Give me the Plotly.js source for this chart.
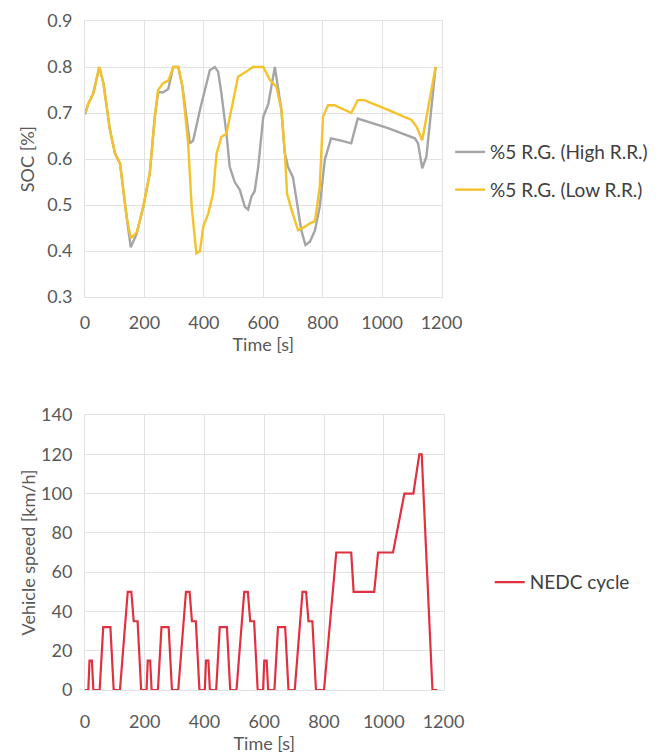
<!DOCTYPE html>
<html>
<head>
<meta charset="utf-8">
<script src="https://cdn.plot.ly/plotly-3.0.1.min.js"></script>
<style>
  html, body { margin: 0; padding: 0; background: #ffffff; }
  #chart { width: 660px; height: 756px; }
</style>
</head>
<body>
<div id="chart"></div>
<script>
// ---- SOC chart data ----
const timeHigh = [0, 11, 28, 48, 62, 84, 101, 118, 140, 154, 174, 196, 218, 235, 246, 263, 280, 297, 314, 328, 353, 364, 387, 403, 420, 437, 448, 459, 476, 487, 504, 521, 538, 549, 560, 571, 583, 600, 617, 639, 661, 672, 683, 700, 712, 728, 742, 757, 774, 790, 807, 828, 862, 896, 918, 1020, 1110, 1121, 1135, 1149, 1180];
const socHigh  = [0.697, 0.72, 0.743, 0.80, 0.765, 0.663, 0.612, 0.59, 0.475, 0.408, 0.438, 0.496, 0.569, 0.692, 0.745, 0.745, 0.752, 0.80, 0.80, 0.757, 0.634, 0.64, 0.707, 0.75, 0.793, 0.80, 0.79, 0.743, 0.656, 0.583, 0.55, 0.533, 0.496, 0.49, 0.518, 0.53, 0.583, 0.692, 0.72, 0.80, 0.707, 0.615, 0.583, 0.56, 0.511, 0.445, 0.413, 0.42, 0.445, 0.496, 0.598, 0.645, 0.64, 0.634, 0.688, 0.667, 0.645, 0.634, 0.58, 0.605, 0.80];

const timeLow = [0, 11, 28, 48, 62, 84, 101, 118, 140, 154, 174, 196, 218, 235, 246, 263, 280, 297, 314, 328, 347, 359, 375, 387, 398, 415, 431, 443, 459, 476, 499, 515, 543, 565, 600, 622, 644, 661, 672, 680, 695, 717, 740, 757, 774, 790, 801, 818, 840, 885, 896, 918, 940, 1020, 1099, 1116, 1135, 1180];
const socLow  = [0.70, 0.72, 0.743, 0.80, 0.765, 0.663, 0.612, 0.59, 0.475, 0.428, 0.44, 0.496, 0.569, 0.692, 0.75, 0.765, 0.77, 0.80, 0.80, 0.757, 0.634, 0.496, 0.395, 0.40, 0.453, 0.482, 0.525, 0.612, 0.648, 0.655, 0.728, 0.779, 0.79, 0.80, 0.80, 0.772, 0.757, 0.707, 0.62, 0.525, 0.49, 0.445, 0.453, 0.46, 0.465, 0.54, 0.692, 0.717, 0.717, 0.703, 0.70, 0.728, 0.728, 0.707, 0.685, 0.67, 0.641, 0.80];

// ---- NEDC speed data ----
const timeNedc  = [0, 11, 15, 23, 28, 49, 61, 85, 96, 117, 143, 155, 163, 176, 188,
                   195, 206, 210, 218, 223, 244, 256, 280, 291, 312, 338, 350, 358, 371, 383,
                   390, 401, 405, 413, 418, 439, 451, 475, 486, 507, 533, 545, 553, 566, 578,
                   585, 596, 600, 608, 613, 634, 646, 670, 681, 702, 728, 740, 748, 761, 773,
                   780, 800, 841, 891, 899, 968, 981, 1031, 1069, 1099, 1119, 1127, 1163, 1180];
const speedNedc = [0, 0, 15, 15, 0, 0, 32, 32, 0, 0, 50, 50, 35, 35, 0,
                   0, 0, 15, 15, 0, 0, 32, 32, 0, 0, 50, 50, 35, 35, 0,
                   0, 0, 15, 15, 0, 0, 32, 32, 0, 0, 50, 50, 35, 35, 0,
                   0, 0, 15, 15, 0, 0, 32, 32, 0, 0, 50, 50, 35, 35, 0,
                   0, 0, 70, 70, 50, 50, 70, 70, 100, 100, 120, 120, 0, 0];

const seriesNames = ['%5 R.G. (High R.R.)', '%5 R.G. (Low R.R.)', 'NEDC cycle'];
const xTicks = [0, 200, 400, 600, 800, 1000, 1200];

const fontFam = 'Lato, "Open Sans", sans-serif';
const tickFont = {family: fontFam, size: 18, color: '#595959'};
const titleFont = {family: fontFam, size: 18, color: '#595959'};
const gridCol = '#e2e2e2';

const traces = [
  {x: timeHigh, y: socHigh, name: seriesNames[0], type: 'scatter', mode: 'lines',
   line: {color: '#a5a5a5', width: 2.4}, xaxis: 'x', yaxis: 'y', legend: 'legend', legendgroup: 'g1'},
  {x: timeLow, y: socLow, name: seriesNames[1], type: 'scatter', mode: 'lines',
   line: {color: '#f5c22b', width: 2.4}, xaxis: 'x', yaxis: 'y', legend: 'legend', legendgroup: 'g2'},
  {x: timeNedc, y: speedNedc, name: seriesNames[2], type: 'scatter', mode: 'lines',
   line: {color: '#e0313f', width: 2.2}, xaxis: 'x2', yaxis: 'y2', legend: 'legend2'}
];

const xBase = {
  range: [0, 1200], tickvals: xTicks, showgrid: true, gridcolor: gridCol, gridwidth: 1,
  zeroline: false, showline: true, linecolor: gridCol, mirror: true, ticks: '',
  tickfont: tickFont, fixedrange: true
};
const yBase = {
  showgrid: true, gridcolor: gridCol, zeroline: false, showline: true, linecolor: gridCol, mirror: true,
  ticks: '', tickfont: tickFont, ticklabelstandoff: 8
};

const layout = {
  width: 660, height: 756,
  margin: {l: 0, r: 0, t: 0, b: 0},
  paper_bgcolor: '#ffffff', plot_bgcolor: '#ffffff',
  font: {family: fontFam, color: '#595959'},
  showlegend: true,
  xaxis: Object.assign({}, xBase, {domain: [0.1288, 0.669], anchor: 'y', ticklabelstandoff: 9,
    title: {text: 'Time [s]', font: titleFont, standoff: 0}}),
  yaxis: Object.assign({}, yBase, {domain: [0.6071, 0.9722], anchor: 'x', range: [0.3, 0.9], dtick: 0.1, tickformat: '.1f',
    title: {text: 'SOC [%]', font: titleFont, standoff: 7}}),
  xaxis2: Object.assign({}, xBase, {domain: [0.1288, 0.672], anchor: 'y2', ticklabelstandoff: 15,
    title: {text: 'Time [s]', font: titleFont, standoff: 4}}),
  yaxis2: Object.assign({}, yBase, {domain: [0.0873, 0.4511], anchor: 'x2', range: [0, 140], dtick: 20,
    title: {text: 'Vehicle speed [km/h]', font: titleFont, standoff: 0}}),
  legend: {x: 0.682, y: 0.824, xanchor: 'left', yanchor: 'top', bgcolor: 'rgba(0,0,0,0)',
    font: {family: fontFam, size: 19, color: '#404040'}, tracegroupgap: 10, itemwidth: 30},
  legend2: {x: 0.742, y: 0.255, xanchor: 'left', yanchor: 'top', bgcolor: 'rgba(0,0,0,0)',
    font: {family: fontFam, size: 19, color: '#404040'}, itemwidth: 30}
};

Plotly.newPlot('chart', traces, layout, {displayModeBar: false, staticPlot: true});
</script>
</body>
</html>
